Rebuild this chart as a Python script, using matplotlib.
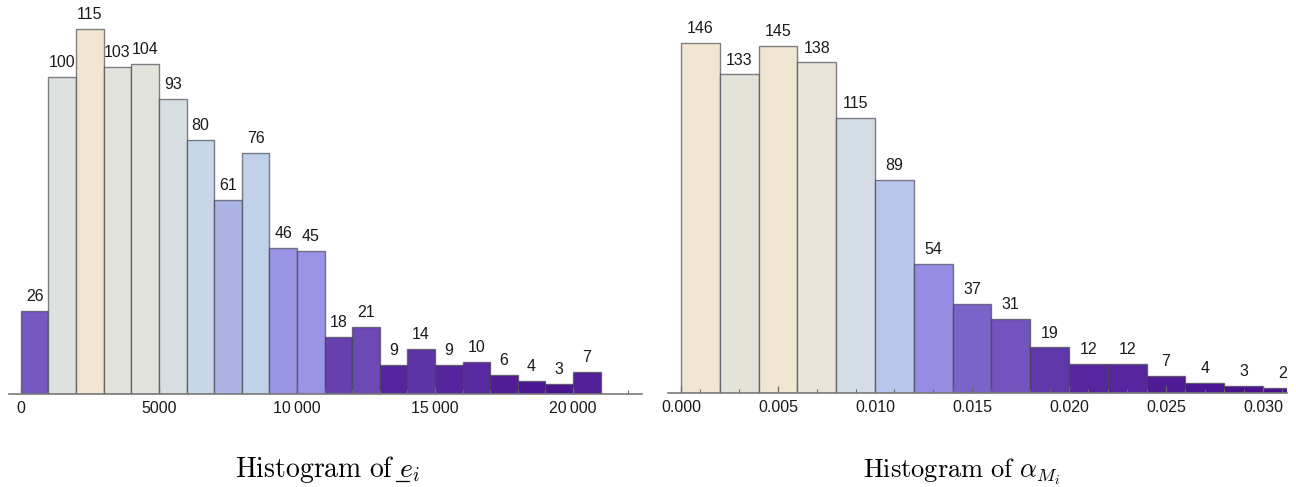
import matplotlib
matplotlib.use("Agg")
import matplotlib.pyplot as plt
import numpy as np
from matplotlib.colors import LinearSegmentedColormap
from matplotlib.lines import Line2D

# ---------------- data ----------------
e_bin_width = 1000
e_counts = [26, 100, 115, 103, 104, 93, 80, 61, 76, 46, 45, 18, 21, 9, 14, 9, 10, 6, 4, 3, 7]
e_ticks = [0, 5000, 10000, 15000, 20000]
e_ticklabels = ["0", "5000", "10\u2009000", "15\u2009000", "20\u2009000"]

a_bin_width = 0.002
a_counts = [146, 133, 145, 138, 115, 89, 54, 37, 31, 19, 12, 12, 7, 4, 3, 2]
a_ticks = [0.000, 0.005, 0.010, 0.015, 0.020, 0.025, 0.030]
a_ticklabels = ["0.000", "0.005", "0.010", "0.015", "0.020", "0.025", "0.030"]

title_prefix = r"$\mathrm{Histogram\ of\ }$"
titles = [r"$\mathrm{Histogram\ of\ }e_i$", r"$\mathrm{Histogram\ of\ }\alpha_{M_i}$"]

# ---------------- style ----------------
plt.rcParams['font.family'] = ['Liberation Sans', 'DejaVu Sans']
plt.rcParams['mathtext.fontset'] = 'cm'

cmap = LinearSegmentedColormap.from_list("hist", [
    (0.00, "#470c8a"),
    (0.10, "#5a2ca2"),
    (0.20, "#7050ba"),
    (0.26, "#7e66cc"),
    (0.38, "#9890e6"),
    (0.53, "#acb4e6"),
    (0.62, "#b8c8ea"),
    (0.68, "#c4d4ea"),
    (0.80, "#d6dee2"),
    (0.90, "#e2e2dc"),
    (0.95, "#eae4d6"),
    (1.00, "#f0e6d2"),
])

W, H = 1296, 487
fig = plt.figure(figsize=(W / 100, H / 100), dpi=100)
FS = 11.5


def make_axes(px_left, px_right, px_top, px_bottom):
    return fig.add_axes([px_left / W, 1 - px_bottom / H,
                         (px_right - px_left) / W, (px_bottom - px_top) / H])


def draw(ax, counts, width, ticks, ticklabels, minor_step, xlim, ylim):
    counts = np.asarray(counts)
    edges = np.arange(len(counts)) * width
    colors = cmap(counts / counts.max())
    bars = ax.bar(edges, counts, width=width, align='edge', color=colors,
                  edgecolor=(0.25, 0.25, 0.3, 0.65), linewidth=1.0, zorder=1)
    ax.bar_label(bars, labels=[str(c) for c in counts], padding=5,
                 fontsize=FS, color='#1a1a1a')
    ax.set_xlim(*xlim)
    ax.set_ylim(*ylim)
    for s in ['top', 'right', 'left']:
        ax.spines[s].set_visible(False)
    ax.spines['bottom'].set_color('#7a7a7a')
    ax.spines['bottom'].set_linewidth(1.2)
    ax.set_yticks([])
    ax.set_xticks(ticks)
    ax.set_xticklabels(ticklabels)
    ax.set_xticks(np.arange(0, xlim[1], minor_step), minor=True)
    ax.tick_params(axis='x', which='major', direction='in', length=5,
                   width=0.9, color='#6a6a6a', labelsize=FS, pad=5,
                   labelcolor='#1a1a1a')
    ax.tick_params(axis='x', which='minor', direction='in', length=3,
                   width=0.8, color='#6a6a6a')
    ax.patch.set_alpha(0)


ax1 = make_axes(9, 642, 5, 393.7)
draw(ax1, e_counts, e_bin_width, e_ticks, e_ticklabels, 1000,
     xlim=(-430, 22500), ylim=(0, (393.7 - 5) / 3.17))

ax2 = make_axes(668, 1287, 5, 393)
draw(ax2, a_counts, a_bin_width, a_ticks, a_ticklabels, 0.001,
     xlim=(-0.00067, 0.03124), ylim=(0, (393 - 5) / 2.395))

TFS = 20
t1 = fig.text(328 / W, 1 - 477 / H, titles[0], ha='center', va='baseline', fontsize=TFS)
t2 = fig.text(961 / W, 1 - 477 / H, titles[1], ha='center', va='baseline', fontsize=19)

# underline under the "e" of the first title
renderer = fig.canvas.get_renderer()
bb_full = t1.get_window_extent(renderer)
tmp = fig.text(0, 0, title_prefix, fontsize=TFS)
w_pre = tmp.get_window_extent(renderer).width
tmp.remove()
tmp = fig.text(0, 0, r"$e$", fontsize=TFS)
w_e = tmp.get_window_extent(renderer).width
tmp.remove()
x0 = bb_full.x0 + w_pre + 1
x1 = x0 + w_e - 1
y_line = 1 - 481 / H
fig.add_artist(Line2D([x0 / W, x1 / W], [y_line, y_line], transform=fig.transFigure,
                      color='black', linewidth=0.9))

fig.savefig("out.png", dpi=100)
